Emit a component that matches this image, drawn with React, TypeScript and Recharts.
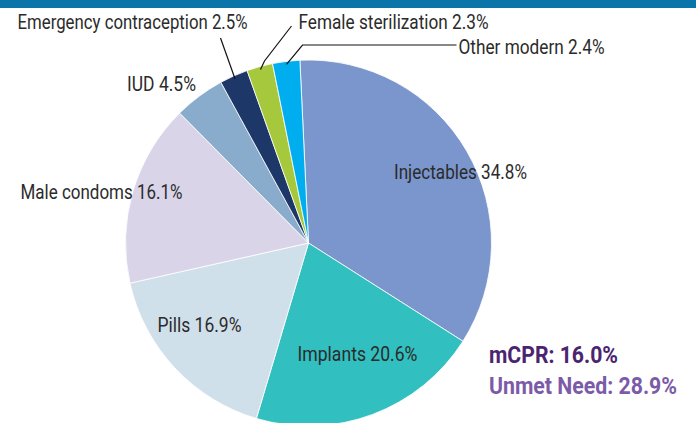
import React from "react";
import { PieChart, Pie, Cell } from "recharts";

// data -----------------------------------------------------------------------
const methods = [
  "Injectables",
  "Implants",
  "Pills",
  "Male condoms",
  "IUD",
  "Emergency contraception",
  "Female sterilization",
  "Other modern",
];
const shares = [34.8, 20.6, 16.9, 16.1, 4.5, 2.5, 2.3, 2.4];
const sliceColors = ["#7b96cc", "#31bfbf", "#d0e0ea", "#dad4e8", "#8aaccc", "#1e3769", "#a6c83c", "#00aeef"];
const mcpr = 16.0;
const unmetNeed = 28.9;

const data = methods.map((name, i) => ({ name, value: shares[i] }));

// label layout (offsets from pie centre, text widths to mimic condensed face) -
type LabelPos = { dx: number; dy: number; anchor: "start" | "middle" | "end"; w: number; leader?: number[][] };
const labelLayout: Record<string, LabelPos> = {
  Injectables: { dx: 152, dy: -71, anchor: "middle", w: 133 },
  Implants: { dx: 49, dy: 111, anchor: "middle", w: 120 },
  Pills: { dx: -109, dy: 82, anchor: "middle", w: 84 },
  "Male condoms": { dx: -207, dy: -51, anchor: "middle", w: 162 },
  IUD: { dx: -147, dy: -159, anchor: "middle", w: 69 },
  "Emergency contraception": { dx: -61, dy: -221, anchor: "end", w: 230, leader: [[-88, -205]] },
  "Female sterilization": { dx: -10, dy: -221, anchor: "start", w: 190, leader: [[-44, -182], [-17, -217]] },
  "Other modern": { dx: 150, dy: -196, anchor: "start", w: 146, leader: [[-6, -198], [148, -198]] },
};

const FONT = "Roboto, 'DejaVu Sans Condensed', sans-serif";
const RADIAN = Math.PI / 180;

const renderLabel = (p: any) => {
  const { cx, cy, midAngle, outerRadius, name, value } = p;
  const pos = labelLayout[name];
  if (!pos) return null;
  let line = null;
  if (pos.leader) {
    const r = outerRadius - 3;
    const sx = cx + r * Math.cos(-midAngle * RADIAN);
    const sy = cy + r * Math.sin(-midAngle * RADIAN);
    const d = `M${sx},${sy}` + pos.leader.map(([x, y]) => ` L${cx + x},${cy + y}`).join("");
    line = <path d={d} stroke="#111" strokeWidth={1.2} fill="none" />;
  }
  return (
    <g key={name}>
      {line}
      <text
        x={cx + pos.dx}
        y={cy + pos.dy}
        textAnchor={pos.anchor}
        dominantBaseline="central"
        fill="#2b2b2b"
        textLength={pos.w}
        lengthAdjust="spacingAndGlyphs"
        style={{ fontFamily: FONT, fontSize: 20 }}
      >
        {`${name} ${value.toFixed(1)}%`}
      </text>
    </g>
  );
};

export default function App() {
  return (
    <div style={{ position: "absolute", left: 0, top: 0, width: 696, height: 423, background: "#fff", overflow: "hidden" }}>
      <PieChart width={696} height={423} margin={{ top: 0, right: 0, bottom: 0, left: 0 }}>
        <Pie
          data={data}
          dataKey="value"
          nameKey="name"
          cx={308.5}
          cy={243}
          outerRadius={183}
          startAngle={92.7}
          endAngle={-267.3}
          stroke="#ffffff"
          strokeWidth={0.8}
          label={renderLabel}
          labelLine={false}
          isAnimationActive={false}
        >
          {data.map((d, i) => (
            <Cell key={d.name} fill={sliceColors[i]} />
          ))}
        </Pie>
        <text
          x={489}
          y={355}
          dominantBaseline="central"
          fill="#4b2470"
          textLength={129}
          lengthAdjust="spacingAndGlyphs"
          style={{ fontFamily: FONT, fontSize: 23, fontWeight: 700 }}
        >
          {`mCPR: ${mcpr.toFixed(1)}%`}
        </text>
        <text
          x={489}
          y={386}
          dominantBaseline="central"
          fill="#7b5ba8"
          textLength={188}
          lengthAdjust="spacingAndGlyphs"
          style={{ fontFamily: FONT, fontSize: 23, fontWeight: 700 }}
        >
          {`Unmet Need: ${unmetNeed.toFixed(1)}%`}
        </text>
      </PieChart>
      <div style={{ position: "absolute", left: 0, top: 0, width: 696, height: 8, background: "#0b74a9" }} />
    </div>
  );
}
